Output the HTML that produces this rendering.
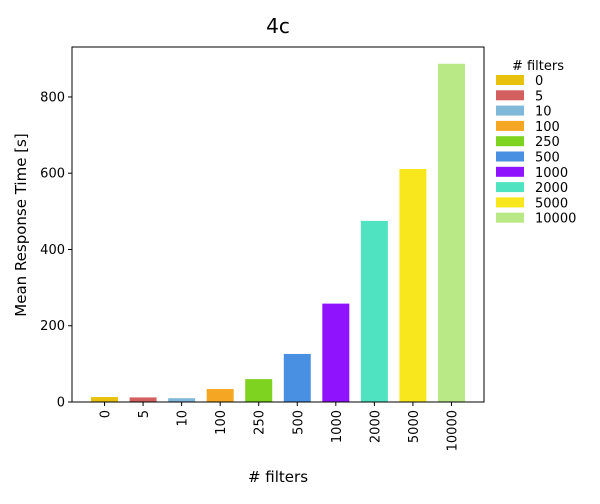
<!DOCTYPE html>
<html><head><meta charset="utf-8"><style>
body{margin:0;background:#fff;font-family:"DejaVu Sans","Liberation Sans",sans-serif}
svg text{font-family:"DejaVu Sans","Liberation Sans",sans-serif}
</style></head><body>
<svg id="chart" width="600" height="500" xmlns="http://www.w3.org/2000/svg">
<text x="278" y="33" font-size="20" text-anchor="middle">4c</text>
<g id="bars"></g><g id="xt"></g><g id="yt"></g>
<rect x="72" y="47" width="412" height="355" fill="none" stroke="#000" stroke-width="1"/>
<text x="278" y="482" font-size="15" text-anchor="middle"># filters</text>
<text transform="translate(26,225) rotate(-90)" font-size="15" text-anchor="middle">Mean Response Time [s]</text>
<g id="legend">
<text x="538" y="70" font-size="13" text-anchor="middle"># filters</text>
</g>
</svg>
<script>
const categories=["0","5","10","100","250","500","1000","2000","5000","10000"];
const values=[13,12,10,34,60,126,258,475,611,887];
const colors=["#e8c10e","#d45f5f","#7fb8d8","#f5a623","#7ed321","#4a90e2","#9013fe","#50e3c2","#f8e71c","#b8e986"];
const yTicks=[0,200,400,600,800];
const NS="http://www.w3.org/2000/svg";
const x0=72,x1=484,y0=402,yMax=931;
const slot=(x1-x0)/(categories.length-1+2*0.844);
function xC(i){return x0+slot*(0.844+i);}
function yS(v){return y0-(v/yMax)*355;}
function mk(t,a,p){const e=document.createElementNS(NS,t);for(const k in a)e.setAttribute(k,a[k]);p.appendChild(e);return e;}
const bars=document.getElementById('bars'),xt=document.getElementById('xt'),yt=document.getElementById('yt'),lg=document.getElementById('legend');
const bw=slot*0.7;
values.forEach((v,i)=>{
 const r=mk('rect',{x:xC(i)-bw/2,y:yS(v),width:bw,height:y0-yS(v),fill:colors[i]},bars);
 
 
 const l=mk('line',{x1:xC(i),x2:xC(i),y1:y0,y2:y0+4,stroke:'#000'},xt);
 
 
 const t=mk('text',{transform:`translate(${xC(i)+5},${y0+8}) rotate(-90)`,'font-size':13,'text-anchor':'end'},xt);
 t.textContent=categories[i];
 
 
 const ly=81+i*15.3;
 const sw=mk('rect',{x:496,y:ly-6,width:28,height:10,fill:colors[i]},lg);
 
 
 const lt=mk('text',{x:535,y:ly+4,'font-size':13},lg);
 lt.textContent=categories[i];
 
 
});
yTicks.forEach(v=>{
 const y=yS(v);
 const l=mk('line',{x1:x0-4,x2:x0,y1:y,y2:y,stroke:'#000'},yt);
 
 
 const t=mk('text',{x:x0-7,y:y+4.5,'font-size':13,'text-anchor':'end'},yt);
 t.textContent=v;
 
 
});
</script>
</body></html>
